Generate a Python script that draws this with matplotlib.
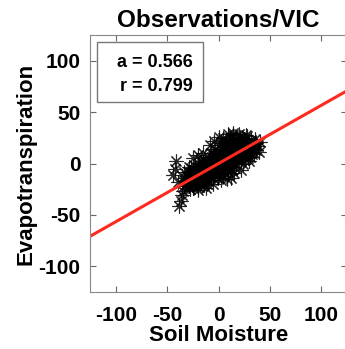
import matplotlib.pyplot as plt
import numpy as np
from matplotlib.patches import Rectangle

plt.rcParams['font.family'] = ['Liberation Sans', 'DejaVu Sans']
plt.rcParams['axes.unicode_minus'] = False

# soil moisture anomaly vs evapotranspiration anomaly
soil = [-38, -37, -36, -35, -41, -44, -42, -39, -34, -33,
        -32, -31, -30, -29, -28, -27, -26, -25, -24, -23,
        -22, -21, -20, -19, -18, -17, -16, -15, -14, -13,
        -12, -11, -10, -9, -8, -7, -6, -5, -4, -3,
        -2, -1, 0, 1, 2, 3, 4, 5, 6, 7,
        8, 9, 10, 11, 12, 13, 14, 15, 16, 17,
        18, 19, 20, 21, 22, 23, 24, 25, 26, 27,
        28, 29, 30, 31, 32, 33, 34, 35, 36, 38,
        -8, -4, 0, 4, 9, 14, 20, 27, 40, 39,
        -28, -20, -12, -5, 2, 8, 15, 22, 30, 12,
        -25, -18, -10, -5, 0, 5, 10, 15, 20, 25,
        -30, -22, -15, -8, -2, 3, 9, 16, 23, 31,
        -20, -15, -25,
        -30, -27, -24, -21, -18, -15, -12, -9, -6, -3,
        0, 3, 6, 9, 12, 15, 18, 21, 24, 27,
        -26, -23, -19, -16, -13, -10, -7, -4, -1, 2,
        5, 8, 11, 14, 17, 20, 23, 26, 29, 32,
        -33, -29, -24, -17, -11, -6, -1, 4, 10, 35,
        -20, -14, -8, -3, 1, 6, 11, 17, 24, 36,
        -28, -22, -16, -11, -7, -2, 2, 7, 13, 19,
        -24, -19, -13, -9, -4, 1, 5, 10, 16, 22,
        26, 30, 33, 18, 13, 7, -1, -17, -27, -34,
        -31, -26, -21, -17, -14, -10, -6, -2, 3, 8,
        -23, -18, -12, -7, -3, 2, 7, 12, 18, 28]
evap = [-41, -36, -31, -27, 2, -11, -5, -18, -22, -14,
        -20, -12, -8, -22, -17, -4, -14, -24, -10, -19,
        -6, -15, -23, -2, -11, -18, 0, -8, -21, 3,
        -13, -4, -17, 6, -8, 10, -2, -14, 4, -7,
        12, -10, 3, 18, -5, 8, -12, 14, 0, 22,
        5, -8, 16, 25, 2, 10, 28, -3, 19, 7,
        14, 22, 4, 26, 11, 18, 0, 24, 8, 16,
        27, 12, 20, 6, 23, 15, 10, 19, 13, 17,
        18, 22, 26, 25, 29, 30, 29, 28, 21, 11,
        -25, -26, -24, -20, -16, -15, -9, -6, 2, -14,
        -15, -10, -6, -2, -1, 3, 7, 9, 12, 14,
        -14, -13, -12, -3, 6, -2, 12, 13, 7, 10,
        8, 10, 5,
        -18, -16, -20, -8, -20, -4, -8, -12, 2, 0,
        -6, 13, 6, 0, 18, 22, 8, 16, 20, 10,
        -21, -2, -14, -16, 0, 2, -12, -10, 9, 20,
        -8, 20, -4, 4, 24, 18, 25, 20, 5, 17,
        -17, -3, -6, -6, -20, 6, -14, -6, 22, 24,
        -16, -2, 0, 14, -9, 18, 4, 0, 12, 20,
        -12, -18, -8, -10, -4, -6, 4, 1, 14, 10,
        -6, -4, -2, 0, -3, 5, 10, 12, 6, 4,
        13, 15, 9, 3, -6, -4, 1, 2, -9, -8,
        -16, -11, -12, -10, -14, -6, -4, 4, 2, 8,
        -8, -3, -2, 2, 8, 10, -2, 17, 3, 20]

slope = 0.566
corr = 0.799

fig = plt.figure(figsize=(3.45, 3.49), dpi=100)
ax = fig.add_axes([0.261, 0.163, 0.745, 0.737])

ax.plot(soil, evap, linestyle='none', marker=(8, 2, 0), markersize=10,
        markeredgewidth=0.8, color='black', alpha=0.85)

xl = np.array([-125, 125])
ax.plot(xl, slope * xl, color='#ff2a1f', linewidth=2.2)

ax.set_xlim(-125, 125)
ax.set_ylim(-125, 125)
ax.set_xticks([-100, -50, 0, 50, 100])
ax.set_yticks([-100, -50, 0, 50, 100])
ax.tick_params(direction='in', length=4, top=True, right=True,
               labelsize=15, color='#666666')
ax.tick_params(axis='x', pad=10)
ax.tick_params(axis='y', pad=7)
for lab in ax.get_xticklabels() + ax.get_yticklabels():
    lab.set_fontweight('bold')
for s in ax.spines.values():
    s.set_color('#888888')

ax.set_xlabel('Soil Moisture', fontsize=16, fontweight='bold', labelpad=0)
ax.set_ylabel('Evapotranspiration', fontsize=16, fontweight='bold', labelpad=1)
ax.set_title('Observations/VIC', fontsize=17.5, fontweight='bold', pad=6)

# stats box
ax.add_patch(Rectangle((0.027, 0.74), 0.413, 0.232, transform=ax.transAxes,
                       facecolor='white', edgecolor='#777777', linewidth=1.0, zorder=3))
ax.text(0.40, 0.876, 'a = %.3f' % slope, transform=ax.transAxes, fontsize=13,
        fontweight='bold', ha='right', va='baseline', zorder=4)
ax.text(0.40, 0.78, 'r = %.3f' % corr, transform=ax.transAxes, fontsize=13,
        fontweight='bold', ha='right', va='baseline', zorder=4)

fig.savefig('out.png', dpi=100)
